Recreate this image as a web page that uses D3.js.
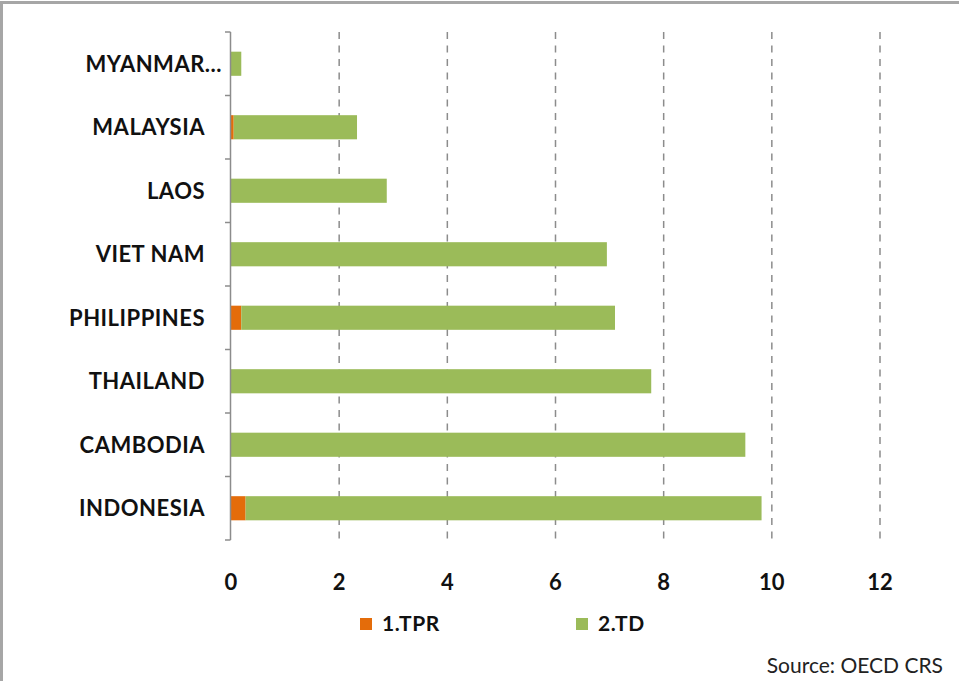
<!DOCTYPE html>
<html>
<head>
<meta charset="utf-8">
<script src="https://cdn.jsdelivr.net/npm/d3@7"></script>
<style>
  html, body { margin: 0; padding: 0; background: #fff; }
  svg { display: block; }
  text { font-family: Lato, "Open Sans", sans-serif; }
</style>
</head>
<body>
<svg id="chart" width="959" height="681"></svg>
<script>
// Countries, listed top to bottom
const countries = ["MYANMAR...", "MALAYSIA", "LAOS", "VIET NAM", "PHILIPPINES", "THAILAND", "CAMBODIA", "INDONESIA"];
// 1.TPR values per country
const tpr = [0, 0.05, 0, 0, 0.19, 0, 0, 0.27];
// 2.TD values per country
const td = [0.19, 2.28, 2.88, 6.95, 6.91, 7.77, 9.51, 9.54];
const seriesNames = ["1.TPR", "2.TD"];
const seriesColors = ["#E46C0A", "#9BBB59"];
const xTicks = [0, 2, 4, 6, 8, 10, 12];

const svg = d3.select("#chart");
const W = 959, H = 681;

// frame around the chart area
svg.append("rect")
  .attr("x", 1.5).attr("y", 2.5)
  .attr("width", W + 4).attr("height", H + 4)
  .attr("fill", "#fff").attr("stroke", "#a6a6a6").attr("stroke-width", 3);

const plot = { left: 231, right: 880, top: 32, bottom: 540 };

const x = d3.scaleLinear().domain([0, 12]).range([plot.left, plot.right]);
const y = d3.scaleBand().domain(countries).range([plot.top, plot.bottom]).paddingInner(0.62).paddingOuter(0.31);

// dashed vertical gridlines
svg.append("g")
  .selectAll("line")
  .data(xTicks.filter(d => d > 0))
  .join("line")
  .attr("x1", d => x(d)).attr("x2", d => x(d))
  .attr("y1", plot.top).attr("y2", plot.bottom)
  .attr("stroke", "#8c8c8c").attr("stroke-width", 1.5)
  .attr("stroke-dasharray", "7,6.5");

// stacked bars
const rows = countries.map((c, i) => ({ country: c, vals: [tpr[i], td[i]] }));
const stack = d3.stack().keys([0, 1]).value((d, k) => d.vals[k]);
const layers = stack(rows);

svg.append("g")
  .selectAll("g")
  .data(layers)
  .join("g")
  .attr("fill", (d, i) => seriesColors[i])
  .selectAll("rect")
  .data(d => d)
  .join("rect")
  .attr("x", d => x(d[0]))
  .attr("width", d => Math.max(0, x(d[1]) - x(d[0])))
  .attr("y", d => y(d.data.country))
  .attr("height", y.bandwidth());

// category axis line with ticks at band boundaries
const edges = d3.range(countries.length + 1).map(i => plot.top + i * (plot.bottom - plot.top) / countries.length);
const yAxisG = svg.append("g");
yAxisG.append("line")
  .attr("x1", plot.left - 0.5).attr("x2", plot.left - 0.5)
  .attr("y1", plot.top).attr("y2", plot.bottom)
  .attr("stroke", "#8c8c8c").attr("stroke-width", 1.5);
yAxisG.selectAll("line.tk")
  .data(edges)
  .join("line")
  .attr("class", "tk")
  .attr("x1", plot.left - 6).attr("x2", plot.left - 0.5)
  .attr("y1", d => d).attr("y2", d => d)
  .attr("stroke", "#8c8c8c").attr("stroke-width", 1.5);

// category labels
svg.append("g")
  .selectAll("text")
  .data(countries)
  .join("text")
  .attr("x", d => d.endsWith("...") ? 222 : 205)
  .attr("y", d => y(d) + y.bandwidth() / 2)
  .attr("dy", "0.36em")
  .attr("text-anchor", "end")
  .attr("font-size", 22)
  .attr("font-weight", 700)
  .attr("letter-spacing", 0.5)
  .attr("fill", "#111")
  .text(d => d);

// value axis labels
svg.append("g")
  .selectAll("text")
  .data(xTicks)
  .join("text")
  .attr("x", d => x(d))
  .attr("y", 590)
  .attr("text-anchor", "middle")
  .attr("font-size", 22)
  .attr("font-weight", 700)
  .attr("fill", "#111")
  .text(d => d);

// legend
const legendX = [360, 576];
const lg = svg.append("g");
seriesNames.forEach((name, i) => {
  lg.append("rect")
    .attr("x", legendX[i]).attr("y", 618)
    .attr("width", 12).attr("height", 12)
    .attr("fill", seriesColors[i]);
  lg.append("text")
    .attr("x", legendX[i] + 22).attr("y", 631)
    .attr("font-size", 21)
    .attr("font-weight", 700)
    .attr("letter-spacing", 0.6)
    .attr("fill", "#111")
    .text(name);
});

// source note
svg.append("text")
  .attr("x", 943).attr("y", 673)
  .attr("text-anchor", "end")
  .attr("font-size", 21)
  .attr("fill", "#222")
  .text("Source: OECD CRS");
</script>
</body>
</html>
